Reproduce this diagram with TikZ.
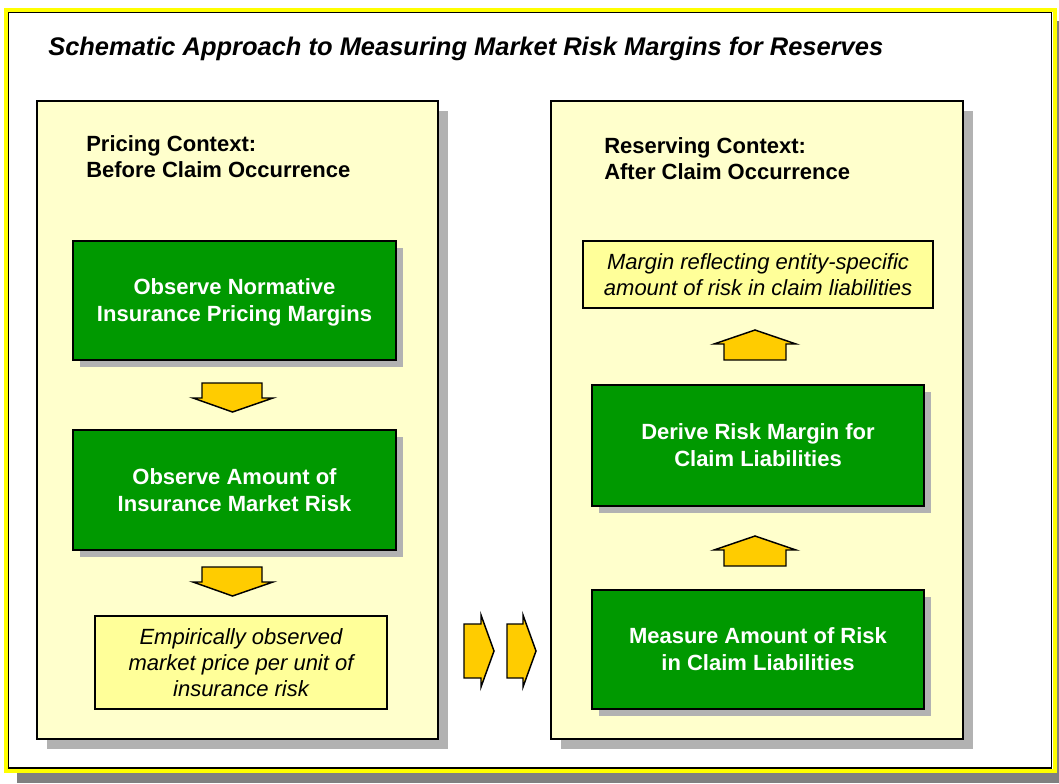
\documentclass[tikz,border=0pt]{standalone}
\usepackage{fontspec}
\setmainfont{Liberation Sans}
\usetikzlibrary{shadows}

\definecolor{panelfill}{HTML}{FFFFCC}
\definecolor{notefill}{HTML}{FFFF99}
\definecolor{actgreen}{HTML}{009900}
\definecolor{arrowfill}{HTML}{FFCC00}
\definecolor{panelshadow}{HTML}{B2B2B2}
\definecolor{frameshadow}{HTML}{808080}
\definecolor{frameyellow}{HTML}{FFFF00}

\tikzset{
  boxw/.style={minimum width=#1*0.75pt},
  boxh/.style={minimum height=#1*0.75pt},
  panel/.style={draw=black, line width=1.1pt, fill=panelfill, inner sep=0pt,
    general shadow={fill=panelshadow, shadow xshift=7.5pt, shadow yshift=-7.5pt}},
  actbox/.style={draw=black, line width=1.1pt, fill=actgreen, inner sep=0pt,
    text=white, align=center, font=\fontsize{16.5}{20.25}\selectfont\bfseries,
    general shadow={fill=panelshadow, shadow xshift=5.25pt, shadow yshift=-5.25pt}},
  notebox/.style={draw=black, line width=0.9pt, fill=notefill, inner sep=0pt,
    align=center, font=\fontsize{16.5}{19.5}\selectfont\itshape},
  heading/.style={anchor=base west, align=left, inner sep=0pt,
    font=\fontsize{16.5}{19.5}\selectfont\bfseries},
  blockarrow/.style={draw=black, line width=1.1pt, fill=arrowfill, line join=miter}
}

\begin{document}
\begin{tikzpicture}[x=0.75pt, y=-0.75pt]
\useasboundingbox (0,0) rectangle (1059,783);
\fill[white] (0,0) rectangle (1059,783);

% outer frame with its drop shadow
\fill[frameshadow] (17,21) rectangle (1059,783);
\fill[white] (6,10) rectangle (1055,771);
\draw[frameyellow, line width=2.4pt] (6,10) rectangle (1055,771);
\draw[black, line width=1.1pt] (8.5,12.5) rectangle (1051.5,768);

% title
\node[anchor=base west, inner sep=0pt,
  font=\fontsize{19.1}{22}\selectfont\bfseries\itshape] (title) at (48,55)
  {Schematic Approach to Measuring Market Risk Margins for Reserves};

% the two context panels
\node[panel, boxw=401, boxh=638] (pricing) at (237.5,420) {};
\node[panel, boxw=412, boxh=638] (reserving) at (757,420) {};

% headings (anchored on the baseline of their second line)
\node[heading] (pricinghead) at (86,177) {Pricing Context:\\Before Claim Occurrence};
\node[heading] (reservinghead) at (604,179) {Reserving Context:\\After Claim Occurrence};

% pricing side
\node[actbox, boxw=323, boxh=119, text depth=0pt] (normative) at (234.5,300.5)
  {Observe Normative\\Insurance Pricing Margins};
\node[actbox, boxw=323, boxh=120] (amount) at (234.5,490)
  {Observe Amount of\\Insurance Market Risk};
\node[notebox, boxw=292, boxh=93] (price) at (241,662.5)
  {Empirically observed\\market price per unit of\\insurance risk};

% reserving side
\node[notebox, boxw=350, boxh=67] (margin) at (758,274.5)
  {Margin reflecting entity-specific\\amount of risk in claim liabilities};
\node[actbox, boxw=332, boxh=121] (derive) at (758,445.5)
  {Derive Risk Margin for\\Claim Liabilities};
\node[actbox, boxw=332, boxh=119] (measure) at (758,649.5)
  {Measure Amount of Risk\\in Claim Liabilities};

% block arrows
\draw[blockarrow] (202,383) -- (262,383) -- (262,398) -- (273,398) -- (232.5,412)
  -- (193,398) -- (202,398) -- cycle;
\draw[blockarrow] (202,567) -- (262,567) -- (262,582) -- (273,582) -- (232.5,596)
  -- (193,582) -- (202,582) -- cycle;

\draw[blockarrow] (724,360) -- (724,344) -- (714,344) -- (755,330) -- (796,344)
  -- (786,344) -- (786,360) -- cycle;
\draw[blockarrow] (724,566) -- (724,550) -- (714,550) -- (755,536) -- (796,550)
  -- (786,550) -- (786,566) -- cycle;

\draw[blockarrow] (464,624) -- (481,624) -- (481,615) -- (494,651) -- (481,687)
  -- (481,678) -- (464,678) -- cycle;
\draw[blockarrow] (507,624) -- (523,624) -- (523,615) -- (536,651) -- (523,687)
  -- (523,678) -- (507,678) -- cycle;
\end{tikzpicture}
\end{document}
